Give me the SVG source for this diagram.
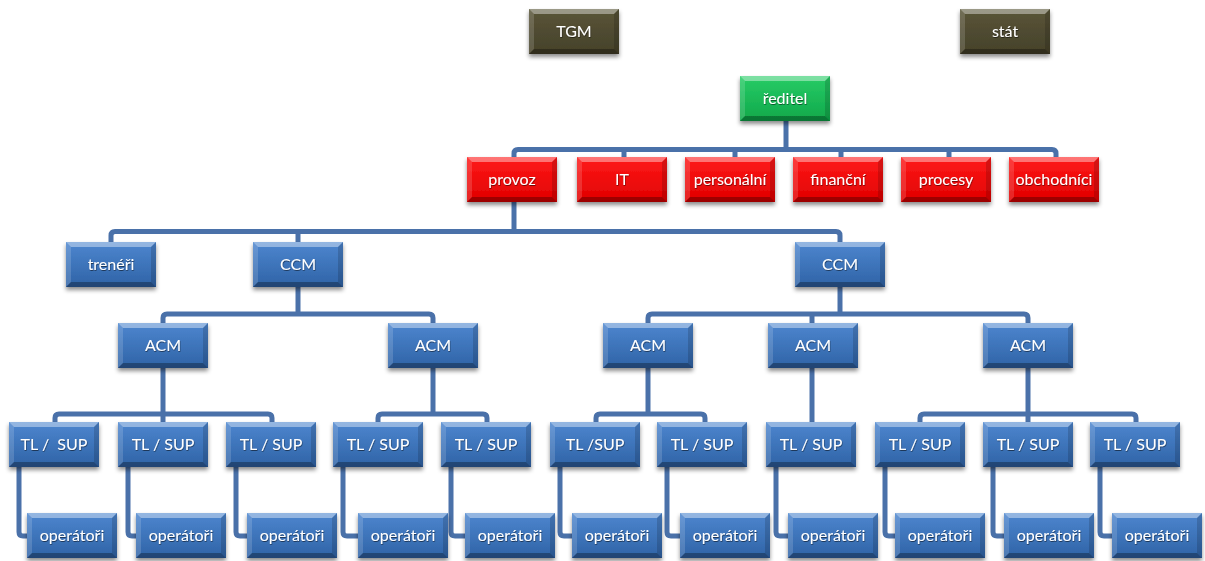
<svg xmlns="http://www.w3.org/2000/svg" xmlns:xlink="http://www.w3.org/1999/xlink" width="1205" height="561" viewBox="0 0 1205 561">
<defs>
<style>
.node text{font-family:Lato,"Liberation Sans","DejaVu Sans",sans-serif;font-size:16px;fill:#ffffff;text-anchor:middle;filter:url(#tsh)}
.blue{fill:url(#gBlue)}
.red{fill:url(#gRed)}
.green{fill:url(#gGreen)}
.olive{fill:url(#gOlive)}
.con path{fill:none;stroke:#4a71a9;stroke-width:5;stroke-linejoin:round;stroke-linecap:butt}
</style>
<linearGradient id="gBlue" x1="0" y1="0" x2="0" y2="1"><stop offset="0" stop-color="#4d86cf"/><stop offset="1" stop-color="#2f63a6"/></linearGradient>
<linearGradient id="gRed" x1="0" y1="0" x2="0" y2="1"><stop offset="0" stop-color="#ff1a1a"/><stop offset="1" stop-color="#e00000"/></linearGradient>
<linearGradient id="gGreen" x1="0" y1="0" x2="0" y2="1"><stop offset="0" stop-color="#28cc66"/><stop offset="1" stop-color="#0fa84a"/></linearGradient>
<linearGradient id="gOlive" x1="0" y1="0" x2="0" y2="1"><stop offset="0" stop-color="#5a5538"/><stop offset="1" stop-color="#45412a"/></linearGradient>
<filter id="sh" x="-20%" y="-20%" width="140%" height="160%"><feDropShadow dx="0" dy="3" stdDeviation="2" flood-color="#000" flood-opacity="0.45"/></filter>
<filter id="tsh" x="-10%" y="-20%" width="120%" height="160%"><feDropShadow dx="0.5" dy="1" stdDeviation="0.6" flood-color="#000" flood-opacity="0.5"/></filter>
<g id="bevel">
<polygon points="0,0 90,0 85,5 5,5" fill="#ffffff" fill-opacity="0.4"/>
<polygon points="0,0 5,5 5,40 0,45" fill="#ffffff" fill-opacity="0.15"/>
<polygon points="90,0 90,45 85,40 85,5" fill="#000000" fill-opacity="0.15"/>
<polygon points="0,45 90,45 85,40 5,40" fill="#000000" fill-opacity="0.3"/>
</g>
<g id="box"><rect width="90" height="45" filter="url(#sh)"/><use xlink:href="#bevel"/></g>
</defs>
<rect width="1205" height="561" fill="#ffffff"/>

<g id="connectors" class="con">
<path d="M786,121 V149.5"/>
<path d="M514,157 V153.5 Q514,149.5 518,149.5 H1052 Q1056,149.5 1056,153.5 V157"/>
<path d="M624,149.5 V157 M735,149.5 V157 M841,149.5 V157 M949,149.5 V157"/>
<path d="M514,202 V231.5"/>
<path d="M111,242 V235.5 Q111,231.5 115,231.5 H836 Q840,231.5 840,235.5 V242"/>
<path d="M298,231.5 V242"/>
<path d="M298,286 V314"/>
<path d="M163,323 V318 Q163,314 167,314 H429 Q433,314 433,318 V323"/>
<path d="M840,286 V314"/>
<path d="M648,323 V318 Q648,314 652,314 H1024 Q1028,314 1028,318 V323"/>
<path d="M812,314 V323"/>
<path d="M163,368 V423"/>
<path d="M55,423 V418 Q55,414 59,414 H268 Q272,414 272,418 V423"/>
<path d="M433,368 V414"/>
<path d="M378,423 V418 Q378,414 382,414 H483 Q487,414 487,418 V423"/>
<path d="M648,368 V414"/>
<path d="M596,423 V418 Q596,414 600,414 H701 Q705,414 705,418 V423"/>
<path d="M812,368 V423"/>
<path d="M1028,368 V423"/>
<path d="M920,423 V418 Q920,414 924,414 H1132 Q1136,414 1136,418 V423"/>
<path d="M19,466 V532 Q19,536 23,536 H27"/>
<path d="M128,466 V532 Q128,536 132,536 H136"/>
<path d="M236,466 V532 Q236,536 240,536 H247"/>
<path d="M343,466 V532 Q343,536 347,536 H358"/>
<path d="M451,466 V532 Q451,536 455,536 H465"/>
<path d="M560,466 V532 Q560,536 564,536 H572"/>
<path d="M667,466 V532 Q667,536 671,536 H680"/>
<path d="M776,466 V532 Q776,536 780,536 H788"/>
<path d="M885,466 V532 Q885,536 889,536 H895"/>
<path d="M993,466 V532 Q993,536 997,536 H1004"/>
<path d="M1100,466 V532 Q1100,536 1104,536 H1112"/>
</g>

<g id="n-tgm" class="node olive" transform="translate(529,9)"><use xlink:href="#box"/><text x="45" y="28">TGM</text></g>
<g id="n-stat" class="node olive" transform="translate(960,9)"><use xlink:href="#box"/><text x="45" y="28">stát</text></g>
<g id="n-reditel" class="node green" transform="translate(740,76)"><use xlink:href="#box"/><text x="45" y="28">ředitel</text></g>

<g id="n-provoz" class="node red" transform="translate(467,157)"><use xlink:href="#box"/><text x="45" y="28">provoz</text></g>
<g id="n-it" class="node red" transform="translate(577,157)"><use xlink:href="#box"/><text x="45" y="28">IT</text></g>
<g id="n-personalni" class="node red" transform="translate(685,157)"><use xlink:href="#box"/><text x="45" y="28">personální</text></g>
<g id="n-financni" class="node red" transform="translate(793,157)"><use xlink:href="#box"/><text x="45" y="28">finanční</text></g>
<g id="n-procesy" class="node red" transform="translate(901,157)"><use xlink:href="#box"/><text x="45" y="28">procesy</text></g>
<g id="n-obchodnici" class="node red" transform="translate(1009,157)"><use xlink:href="#box"/><text x="45" y="28">obchodníci</text></g>

<g id="n-treneri" class="node blue" transform="translate(66,242)"><use xlink:href="#box"/><text x="45" y="28">trenéři</text></g>
<g id="n-ccm1" class="node blue" transform="translate(253,242)"><use xlink:href="#box"/><text x="45" y="28">CCM</text></g>
<g id="n-ccm2" class="node blue" transform="translate(795,242)"><use xlink:href="#box"/><text x="45" y="28">CCM</text></g>

<g id="n-acm1" class="node blue" transform="translate(118,323)"><use xlink:href="#box"/><text x="45" y="28">ACM</text></g>
<g id="n-acm2" class="node blue" transform="translate(388,323)"><use xlink:href="#box"/><text x="45" y="28">ACM</text></g>
<g id="n-acm3" class="node blue" transform="translate(603,323)"><use xlink:href="#box"/><text x="45" y="28">ACM</text></g>
<g id="n-acm4" class="node blue" transform="translate(768,323)"><use xlink:href="#box"/><text x="45" y="28">ACM</text></g>
<g id="n-acm5" class="node blue" transform="translate(983,323)"><use xlink:href="#box"/><text x="45" y="28">ACM</text></g>

<g id="n-tl1" class="node blue" transform="translate(9,422)"><use xlink:href="#box"/><text x="45" y="28" xml:space="preserve">TL /  SUP</text></g>
<g id="n-tl2" class="node blue" transform="translate(118,422)"><use xlink:href="#box"/><text x="45" y="28">TL / SUP</text></g>
<g id="n-tl3" class="node blue" transform="translate(226,422)"><use xlink:href="#box"/><text x="45" y="28">TL / SUP</text></g>
<g id="n-tl4" class="node blue" transform="translate(333,422)"><use xlink:href="#box"/><text x="45" y="28">TL / SUP</text></g>
<g id="n-tl5" class="node blue" transform="translate(441,422)"><use xlink:href="#box"/><text x="45" y="28">TL / SUP</text></g>
<g id="n-tl6" class="node blue" transform="translate(550,422)"><use xlink:href="#box"/><text x="45" y="28">TL /SUP</text></g>
<g id="n-tl7" class="node blue" transform="translate(657,422)"><use xlink:href="#box"/><text x="45" y="28">TL / SUP</text></g>
<g id="n-tl8" class="node blue" transform="translate(766,422)"><use xlink:href="#box"/><text x="45" y="28">TL / SUP</text></g>
<g id="n-tl9" class="node blue" transform="translate(875,422)"><use xlink:href="#box"/><text x="45" y="28">TL / SUP</text></g>
<g id="n-tl10" class="node blue" transform="translate(983,422)"><use xlink:href="#box"/><text x="45" y="28">TL / SUP</text></g>
<g id="n-tl11" class="node blue" transform="translate(1090,422)"><use xlink:href="#box"/><text x="45" y="28">TL / SUP</text></g>

<g id="n-op1" class="node blue" transform="translate(27,513)"><use xlink:href="#box"/><text x="45" y="28">operátoři</text></g>
<g id="n-op2" class="node blue" transform="translate(136,513)"><use xlink:href="#box"/><text x="45" y="28">operátoři</text></g>
<g id="n-op3" class="node blue" transform="translate(247,513)"><use xlink:href="#box"/><text x="45" y="28">operátoři</text></g>
<g id="n-op4" class="node blue" transform="translate(358,513)"><use xlink:href="#box"/><text x="45" y="28">operátoři</text></g>
<g id="n-op5" class="node blue" transform="translate(465,513)"><use xlink:href="#box"/><text x="45" y="28">operátoři</text></g>
<g id="n-op6" class="node blue" transform="translate(572,513)"><use xlink:href="#box"/><text x="45" y="28">operátoři</text></g>
<g id="n-op7" class="node blue" transform="translate(680,513)"><use xlink:href="#box"/><text x="45" y="28">operátoři</text></g>
<g id="n-op8" class="node blue" transform="translate(788,513)"><use xlink:href="#box"/><text x="45" y="28">operátoři</text></g>
<g id="n-op9" class="node blue" transform="translate(895,513)"><use xlink:href="#box"/><text x="45" y="28">operátoři</text></g>
<g id="n-op10" class="node blue" transform="translate(1004,513)"><use xlink:href="#box"/><text x="45" y="28">operátoři</text></g>
<g id="n-op11" class="node blue" transform="translate(1112,513)"><use xlink:href="#box"/><text x="45" y="28">operátoři</text></g>
</svg>
